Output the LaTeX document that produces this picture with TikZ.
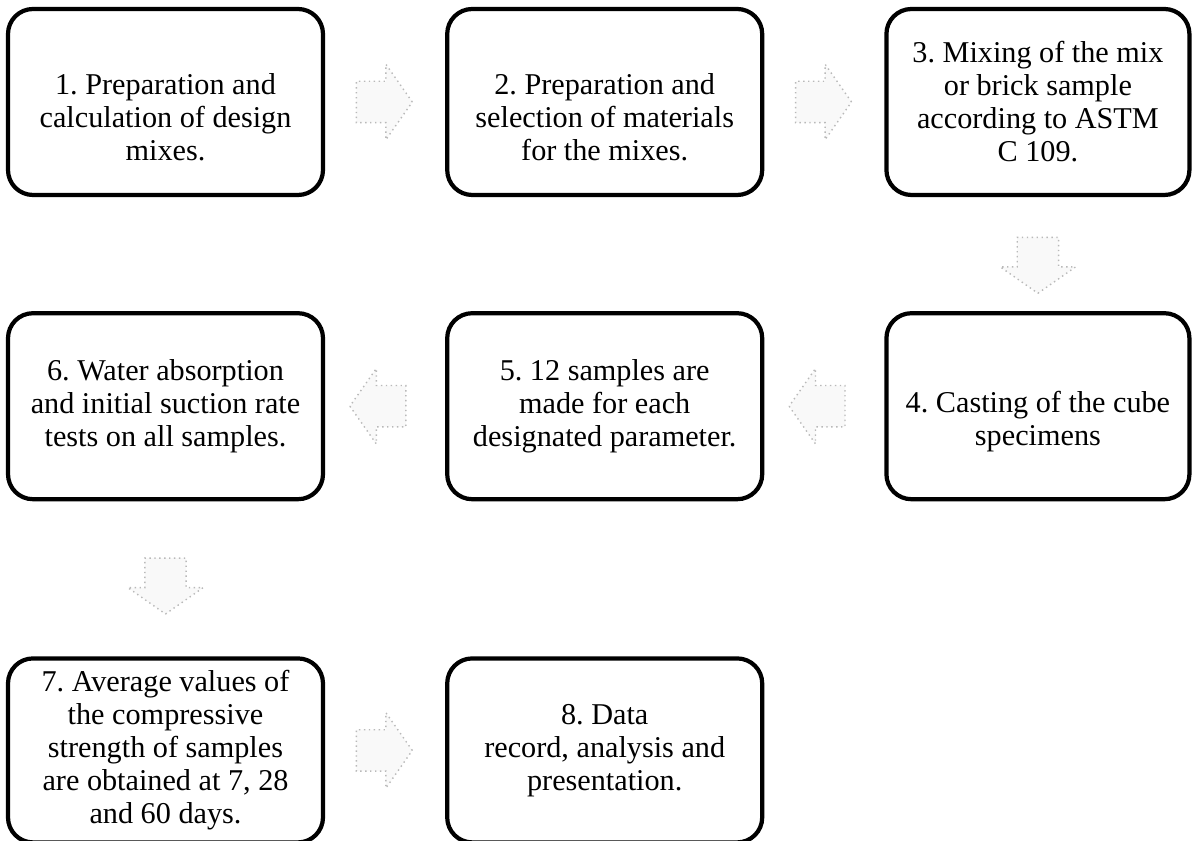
\documentclass[tikz,border=0pt]{standalone}
\usepackage{fontspec}
\setmainfont{Liberation Serif}
\usetikzlibrary{positioning,shapes.arrows,calc}
\newcommand{\lowstrut}{\rule{0pt}{0.52cm}}

\begin{document}
\frenchspacing
\begin{tikzpicture}[
    node distance=1.14cm and 1.2cm,
    stage/.style={rounded corners=0.25cm, draw=black, line width=1.2pt, fill=white, minimum width=3.15cm, minimum height=1.86cm, align=center, inner sep=2pt, font=\fontsize{8.6}{9.4}\selectfont},
    flow/.style={single arrow, draw=gray!55, densely dotted, fill=gray!5, inner sep=0pt, text width=0.4cm, text height=0.2cm, text depth=0.2cm, single arrow head extend=0.17cm, single arrow tip angle=110}
  ]
  \useasboundingbox (0,0) rectangle (11.94,-8.41);

  \node[stage] (prep) at (1.655,-1.02) {\lowstrut 1. Preparation and\\calculation of design\\mixes.};
  \node[stage, right=of prep] (select) {\lowstrut 2. Preparation and\\selection of materials\\for the mixes.};
  \node[stage, right=of select, minimum width=3.03cm] (mixing) {3. Mixing of the mix\\or brick sample\\according to ASTM\\C 109.};
  \node[stage, below=of mixing, minimum width=3.03cm] (casting) {\lowstrut 4. Casting of the cube\\specimens};
  \node[stage, below=of select] (samples) {5. 12 samples are\\made for each\\designated parameter.};
  \node[stage, below=of prep] (absorb) {6. Water absorption\\and initial suction rate\\tests on all samples.};
  \node[stage, below=1.55cm of absorb, minimum height=1.84cm] (strength) {7. Average values of\\the compressive\\strength of samples\\are obtained at 7, 28\\and 60 days.};
  \node[stage, right=of strength, minimum height=1.84cm] (record) {8. Data\\record, analysis and\\presentation.};

  % Flow arrows
  \node[flow, xshift=-0.08cm] (f12) at ($(prep.east)!0.5!(select.west)$) {};
  \node[flow, xshift=-0.08cm] (f23) at ($(select.east)!0.5!(mixing.west)$) {};
  \node[flow, shape border rotate=270, yshift=-0.04cm] (f34) at ($(mixing.south)!0.5!(casting.north)$) {};
  \node[flow, shape border rotate=180] (f45) at ($(casting.west)!0.5!(samples.east)$) {};
  \node[flow, shape border rotate=180] (f56) at ($(samples.west)!0.5!(absorb.east)$) {};
  \node[flow, shape border rotate=270] (f67) at ($(absorb.south)!0.5!(strength.north)$) {};
  \node[flow, xshift=-0.08cm] (f78) at ($(strength.east)!0.5!(record.west)$) {};
\end{tikzpicture}
\end{document}
